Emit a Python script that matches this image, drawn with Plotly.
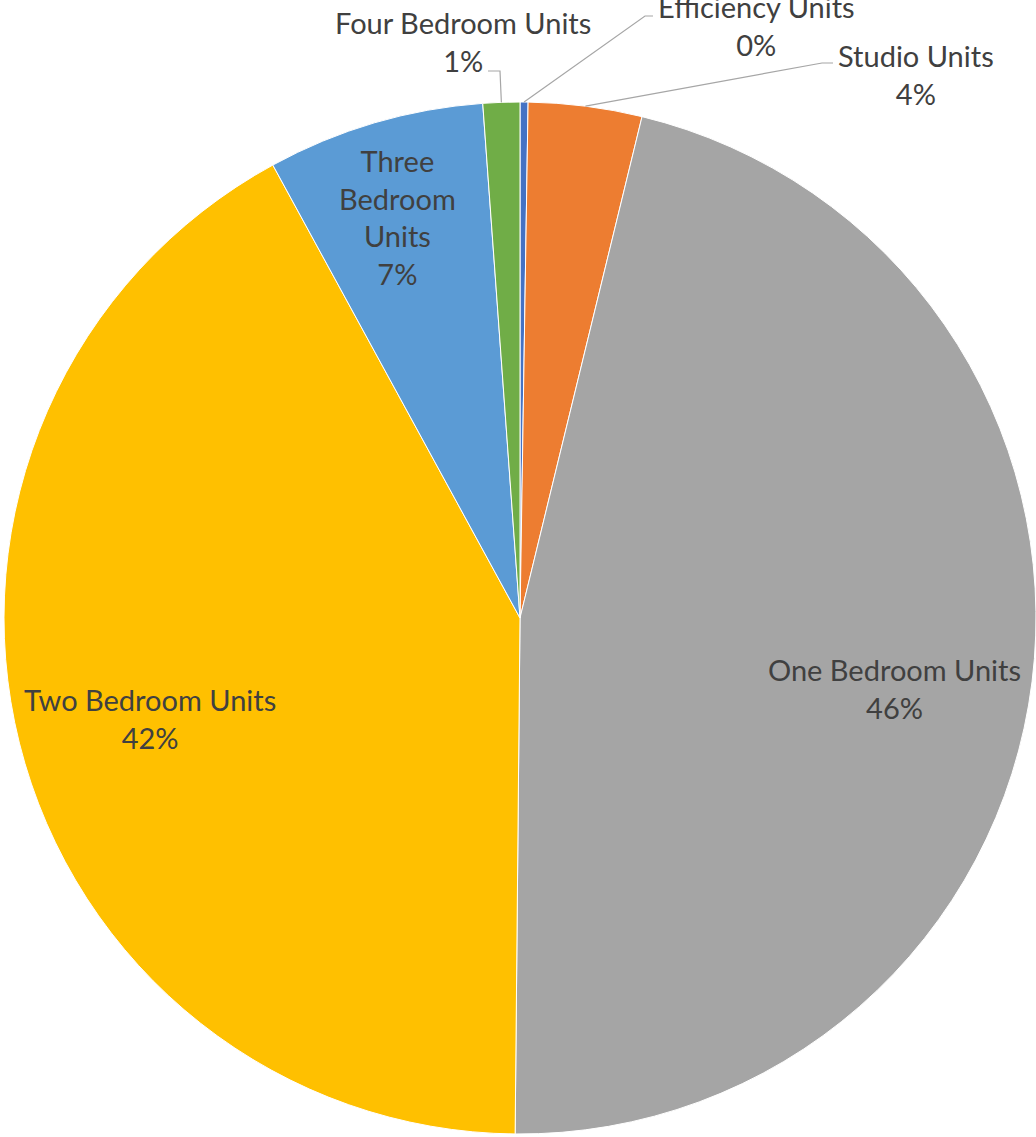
import math
import plotly.graph_objects as go

# Share of units by type, listed clockwise from 12 o'clock
categories = ["Efficiency Units", "Studio Units", "One Bedroom Units",
              "Two Bedroom Units", "Three Bedroom Units", "Four Bedroom Units"]
shares = [0.25, 3.55, 46.35, 41.9, 6.8, 1.15]
colors = ["#4472C4", "#ED7D31", "#A5A5A5", "#FFC000", "#5B9BD5", "#70AD47"]

W, H = 1036, 1137
CX, CY, R = 520, 618, 516  # pie centre and radius in pixels

TEXT = "#404040"
LEADER = "#A6A6A6"
FONT = "Lato"
FS = 29


def px(x):
    return x / W


def py(y):
    return 1 - y / H


fig = go.Figure(go.Pie(
    labels=categories,
    values=shares,
    sort=False,
    direction="clockwise",
    rotation=0,
    textinfo="none",
    hoverinfo="label+percent",
    marker=dict(colors=colors, line=dict(color="#FFFFFF", width=1)),
    domain=dict(x=[px(CX - R), px(CX + R)], y=[py(CY + R), py(CY - R)]),
    showlegend=False,
))

total = sum(shares)
pct = {c: f"{v / total * 100:.0f}%" for c, v in zip(categories, shares)}

# Mid-angle of each slice (degrees clockwise from top) for leader anchors
mid_angle = {}
acc = 0.0
for c, v in zip(categories, shares):
    mid_angle[c] = (acc + v / 2) / total * 360
    acc += v


def arc_point(cat):
    a = math.radians(mid_angle[cat])
    return CX + R * math.sin(a), CY - R * math.cos(a)


# Label text and placement (pixel centre of the text block)
label_text = {
    "Efficiency Units": "Efficiency Units<br>" + pct["Efficiency Units"],
    "Studio Units": "Studio Units<br>" + pct["Studio Units"],
    "One Bedroom Units": "One Bedroom Units<br>" + pct["One Bedroom Units"],
    "Two Bedroom Units": "Two Bedroom Units<br>" + pct["Two Bedroom Units"],
    "Three Bedroom Units": "Three<br>Bedroom<br>Units<br>" + pct["Three Bedroom Units"],
    "Four Bedroom Units": "Four Bedroom Units<br>" + pct["Four Bedroom Units"],
}
label_pos = {
    "Efficiency Units": (756, 26),
    "Studio Units": (916, 74),
    "One Bedroom Units": (894, 688),
    "Two Bedroom Units": (150, 718),
    "Three Bedroom Units": (397, 217),
    "Four Bedroom Units": (463, 42),
}

annotations = []
for c in categories:
    x, y = label_pos[c]
    annotations.append(dict(
        x=px(x), y=py(y), xref="paper", yref="paper",
        text=label_text[c], showarrow=False,
        xanchor="center", yanchor="middle", align="center",
        font=dict(family=FONT, size=FS, color=TEXT),
    ))

# Leader lines: arc anchor -> elbow -> end beside the label
leader_elbows = {
    "Four Bedroom Units": [(500, 71), (488, 71)],
    "Efficiency Units": [(645, 16), (653, 16)],
    "Studio Units": [(822, 63), (833, 63)],
}
shapes = []
for c, pts in leader_elbows.items():
    x0, y0 = arc_point(c)
    path = f"M {px(x0)} {py(y0)}"
    for x, y in pts:
        path += f" L {px(x)} {py(y)}"
    shapes.append(dict(type="path", xref="paper", yref="paper", path=path,
                       line=dict(color=LEADER, width=1.2)))

fig.update_layout(
    width=W, height=H,
    margin=dict(l=0, r=0, t=0, b=0),
    paper_bgcolor="#FFFFFF",
    plot_bgcolor="#FFFFFF",
    annotations=annotations,
    shapes=shapes,
)

fig.write_html("out.html")
